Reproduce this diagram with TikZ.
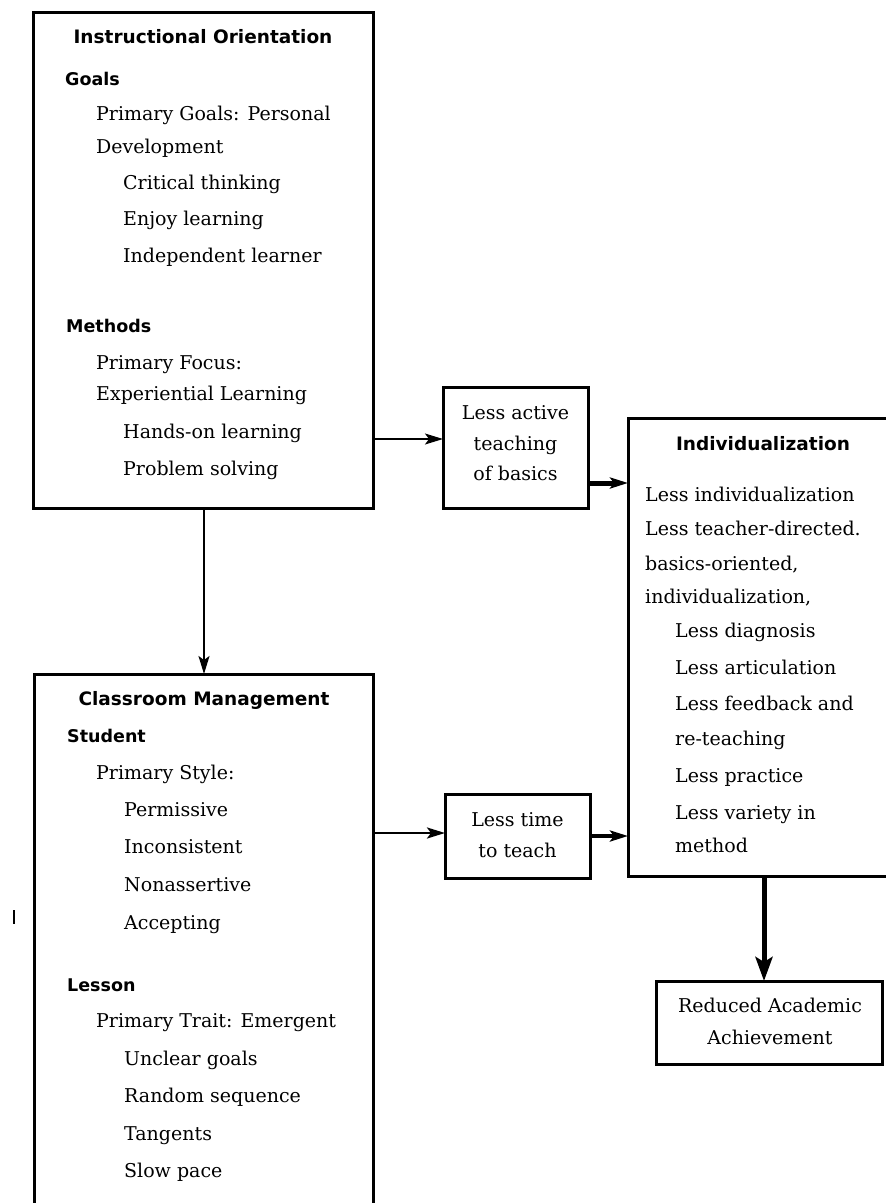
\documentclass[tikz,border=0pt]{standalone}
\usepackage{fontspec}
\setmainfont{DejaVu Serif}
\newfontfamily\headfont{DejaVu Sans}
\usetikzlibrary{arrows.meta}
\begin{document}
\begin{tikzpicture}[x=1pt,y=-1pt,
  box/.style={draw,line width=3pt,inner sep=0pt,outer sep=0pt},
  txt/.style={anchor=mid west,inner sep=0pt,yshift=-4.5pt,font=\fontsize{19}{22}\selectfont},
  ctxt/.style={anchor=mid,inner sep=0pt,yshift=-4.5pt,font=\fontsize{19}{22}\selectfont},
  head/.style={anchor=mid,inner sep=0pt,yshift=-4.5pt,font=\headfont\bfseries\fontsize{18.5}{22}\selectfont},
  sub/.style={anchor=mid west,inner sep=0pt,yshift=-4.5pt,font=\headfont\bfseries\fontsize{17.5}{22}\selectfont},
  arr/.style={-{Stealth[length=18pt,width=11pt,inset=4pt]}},
  bigarr/.style={-{Stealth[length=24pt,width=17pt,inset=5pt]}},
]
\useasboundingbox (0,0) rectangle (886,1203);
\clip (0,0) rectangle (886,1203);

% boxes
\node[box,minimum width=340pt,minimum height=496pt] (io) at (203,260) {};
\node[box,minimum width=145pt,minimum height=121pt] (la) at (515.5,447.5) {};
\node[box,minimum width=264pt,minimum height=458pt] (ind) at (760,647) {};
\node[box,minimum width=339pt,minimum height=545pt] (cm) at (203.5,946.5) {};
\node[box,minimum width=145pt,minimum height=84pt] (lt) at (517.5,836) {};
\node[box,minimum width=226pt,minimum height=83pt] (rae) at (769,1022.5) {};

% Instructional Orientation texts
\node[head] (io0) at (203,36) {Instructional Orientation};
\node[sub] (io1) at (65,78) {Goals};
\node[txt] (io2) at (96,113) {Primary Goals: Personal};
\node[txt] (io3) at (96,146) {Development};
\node[txt] (io4) at (123,182) {Critical thinking};
\node[txt] (io5) at (123,218) {Enjoy learning};
\node[txt] (io6) at (123,255) {Independent learner};
\node[sub] (io7) at (66,325) {Methods};
\node[txt] (io8) at (96,362) {Primary Focus:};
\node[txt] (io9) at (96,393) {Experiential Learning};
\node[txt] (io10) at (123,431) {Hands-on learning};
\node[txt] (io11) at (123,468) {Problem solving};

% Less active teaching
\node[ctxt] (la1) at (515.5,412) {Less active};
\node[ctxt] (la2) at (515.5,443) {teaching};
\node[ctxt] (la3) at (515.5,473) {of basics};

% Individualization
\node[head] (in0) at (763,443) {Individualization};
\node[txt] (in1) at (645,494) {Less individualization};
\node[txt] (in2) at (645,528) {Less teacher-directed.};
\node[txt] (in3) at (645,563) {basics-oriented,};
\node[txt] (in4) at (645,596) {individualization,};
\node[txt] (in5) at (675,630) {Less diagnosis};
\node[txt] (in6) at (675,667) {Less articulation};
\node[txt] (in7) at (675,703) {Less feedback and};
\node[txt] (in8) at (675,738) {re-teaching};
\node[txt] (in9) at (675,775) {Less practice};
\node[txt] (in10) at (675,812) {Less variety in};
\node[txt] (in11) at (675,845) {method};

% Classroom Management
\node[head] (cm0) at (204,698) {Classroom Management};
\node[sub] (cm1) at (67,735) {Student};
\node[txt] (cm2) at (96,772) {Primary Style:};
\node[txt] (cm3) at (124,809) {Permissive};
\node[txt] (cm4) at (124,846) {Inconsistent};
\node[txt] (cm5) at (124,884) {Nonassertive};
\node[txt] (cm6) at (124,922) {Accepting};
\node[sub] (cm7) at (67,984) {Lesson};
\node[txt] (cm8) at (96,1020) {Primary Trait: Emergent};
\node[txt] (cm9) at (124,1058) {Unclear goals};
\node[txt] (cm10) at (124,1095) {Random sequence};
\node[txt] (cm11) at (124,1133) {Tangents};
\node[txt] (cm12) at (124,1170) {Slow pace};

% Less time to teach
\node[ctxt] (lt1) at (517.5,819) {Less time};
\node[ctxt] (lt2) at (517.5,850) {to teach};

% Reduced Academic Achievement
\node[ctxt] (rae1) at (770,1005) {Reduced Academic};
\node[ctxt] (rae2) at (770,1037) {Achievement};

% connector levels
\coordinate (ya) at (0,439);
\coordinate (yb) at (0,483);
\coordinate (yc) at (0,833);
\coordinate (yd) at (0,836);
\coordinate (xa) at (204,0);
\coordinate (xb) at (764,0);

\draw[arr,line width=1.5pt] (io.east |- ya) -- (la.west |- ya);
\draw[arr,line width=5pt] (la.east |- yb) -- (ind.west |- yb);
\draw[arr,line width=2pt] (io.south -| xa) -- (cm.north -| xa);
\draw[arr,line width=2.5pt] (cm.east |- yc) -- (lt.west |- yc);
\draw[arr,line width=3.5pt] (lt.east |- yd) -- (ind.west |- yd);
\draw[bigarr,line width=5pt] (ind.south -| xb) -- (rae.north -| xb);

% stray mark at left
\draw[line width=2pt] (14,910) -- (14,924);
\end{tikzpicture}
\end{document}
